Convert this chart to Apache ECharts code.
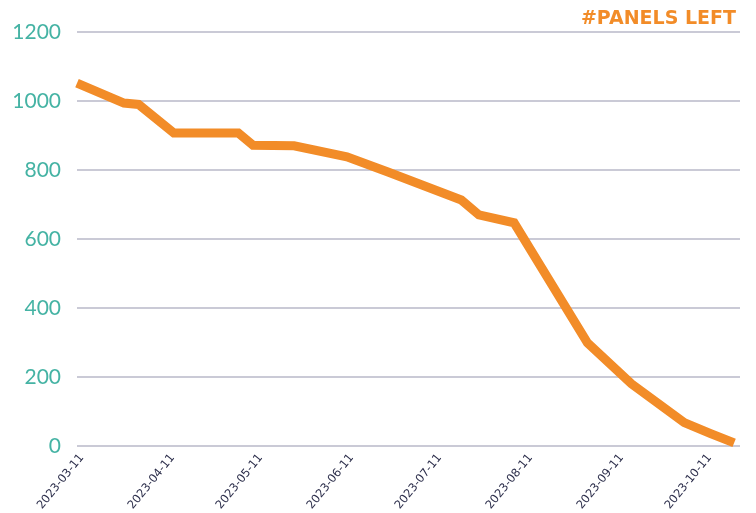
<!DOCTYPE html>
<html>
<head>
<meta charset="utf-8">
<script src="https://cdn.jsdelivr.net/npm/echarts@6/dist/echarts.min.js"></script>
<style>html,body{margin:0;padding:0;background:#fff;}#c{width:756px;height:513px;}</style>
</head>
<body>
<div id="c"></div>
<script>
const dates = ['2023-03-11','2023-03-27','2023-04-01','2023-04-13','2023-05-05','2023-05-10','2023-05-24','2023-06-11','2023-06-25','2023-07-20','2023-07-26','2023-08-07','2023-09-01','2023-09-16','2023-10-04','2023-10-13','2023-10-21'];
const panelsLeft = [1052, 994, 990, 907, 907, 872, 870, 838, 794, 713, 670, 647, 299, 180, 68, 36, 9];
const tickDates = ['2023-03-11','2023-04-11','2023-05-11','2023-06-11','2023-07-11','2023-08-11','2023-09-11','2023-10-11'];

const ts = s => Date.UTC(+s.slice(0,4), +s.slice(5,7)-1, +s.slice(8,10));
const pad = n => (n < 10 ? '0' : '') + n;
const fmt = v => { const d = new Date(v); return d.getUTCFullYear() + '-' + pad(d.getUTCMonth()+1) + '-' + pad(d.getUTCDate()); };

const chart = echarts.init(document.getElementById('c'), null, {renderer: 'canvas'});
chart.setOption({
  animation: false,
  backgroundColor: '#ffffff',
  title: {
    text: '#PANELS LEFT',
    right: 15, top: 5,
    textStyle: {color: '#F28C28', fontFamily: 'DejaVu Sans', fontWeight: 'bold', fontSize: 19}
  },
  grid: {left: 77, right: 16, top: 32, bottom: 67, containLabel: false, outerBoundsMode: 'none'},
  xAxis: {
    type: 'value',
    min: ts('2023-03-11'),
    max: ts('2023-10-23'),
    axisLine: {show: false},
    axisTick: {show: false},
    splitLine: {show: false},
    axisLabel: {
      customValues: tickDates.map(ts),
      formatter: v => fmt(v),
      rotate: 51,
      verticalAlign: 'top',
      color: '#2b2d4a',
      fontFamily: 'DejaVu Sans',
      fontSize: 11.5,
      margin: 6
    }
  },
  yAxis: {
    type: 'value',
    min: 0, max: 1200, interval: 200,
    axisLine: {show: false},
    axisTick: {show: false},
    splitLine: {lineStyle: {color: '#b9b9c8', width: 1.5}},
    axisLabel: {formatter: v => String(v), color: '#45b3a4', fontFamily: 'Lato', fontSize: 21, margin: 16}
  },
  series: [{
    type: 'line',
    data: dates.map((d, i) => [ts(d), panelsLeft[i]]),
    showSymbol: false,
    lineStyle: {color: '#F28C28', width: 9, join: 'miter'},
    itemStyle: {color: '#F28C28'}
  }]
});
</script>
</body>
</html>
